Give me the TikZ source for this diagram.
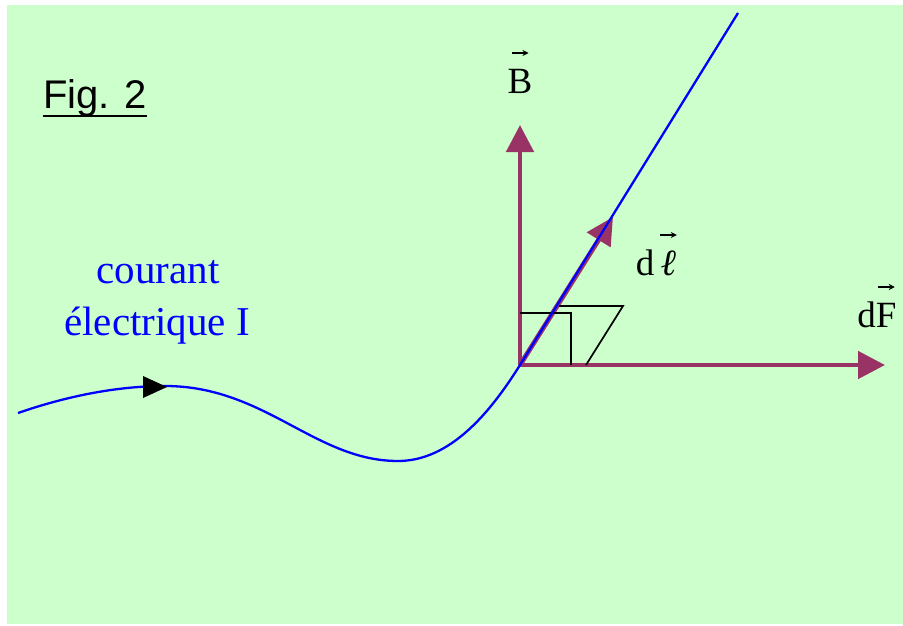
\documentclass[tikz,border=0pt]{standalone}
\usepackage{fontspec}
\setmainfont{Liberation Serif}
\newfontfamily\arialfont{Liberation Sans}
\usetikzlibrary{arrows.meta}
\definecolor{bggreen}{HTML}{CCFFCC}
\definecolor{vecpurple}{HTML}{993366}
\definecolor{curblue}{HTML}{0000FF}
\newcommand\accentarrow{\tikz\draw[black,line width=1.4pt,-{Stealth[length=6pt,width=6pt]}] (0pt,0pt) -- (17pt,0pt);}
\newcommand\myvec[1]{\ooalign{#1\cr\hidewidth\raisebox{1.0em}{\accentarrow}\hidewidth\cr}}
\begin{document}
\begin{tikzpicture}[x=1pt,y=-1pt,
  vecarrow/.style={draw=vecpurple,line width=4.8pt,
    -{Triangle[length=27pt,width=27pt]}},
  current/.style={draw=curblue,line width=2.3pt},
  anglemark/.style={draw=black,line width=1.7pt},
  lab/.style={inner sep=0pt,anchor=base,font=\fontsize{37}{40}\selectfont},
  bluelab/.style={inner sep=0pt,anchor=base,text=curblue,font=\fontsize{41}{44}\selectfont}]
\useasboundingbox (0,0) rectangle (903,626);
\fill[bggreen] (7,5) rectangle (903,624);
% points
\coordinate (O) at (520,365);
\coordinate (Btip) at (520,125);
\coordinate (Ftip) at (885,365);
\coordinate (Ltip) at (613,217);
\coordinate (Cstart) at (18,413);
\coordinate (Cmax) at (165,386);
\coordinate (Cmin) at (398,461);
\coordinate (Cend) at (738,13);
% vectors
\draw[vecarrow] (O) -- (Btip);
\draw[vecarrow] (O) -- (Ftip);
\draw[vecarrow] (O) -- (Ltip);
% right angle marks
\draw[anglemark] (520,313) -- (571,313) -- (571,365);
\draw[anglemark] (559,306) -- (623,306) -- (586,365);
% current
\draw[current] (Cstart) .. controls (70,395) and (120,386) .. (Cmax)
  .. controls (265,386) and (315,461) .. (Cmin)
  .. controls (450,461) and (490,413) .. (O) -- (Cend);
\fill[black] (143,376) -- (167,387) -- (143,398) -- cycle;
% labels
\node[lab] (lB) at (520,93) {\myvec{B}};
\node[lab] (lF) at (877,327) {d\myvec{F}};
\node[lab] (lL) at (656,275) {d\,\myvec{\textit{ℓ}}};
\node[bluelab] (t1) at (158,283) {courant};
\node[bluelab] (t2) at (157,335) {électrique I};
\node[inner sep=0pt,anchor=base,font=\arialfont\fontsize{40}{44}\selectfont] (fig) at (95,109) {Fig. 2};
\draw[line width=2.6pt] ([yshift=-7pt]fig.base west) -- ([yshift=-7pt]fig.base east);
\end{tikzpicture}
\end{document}
